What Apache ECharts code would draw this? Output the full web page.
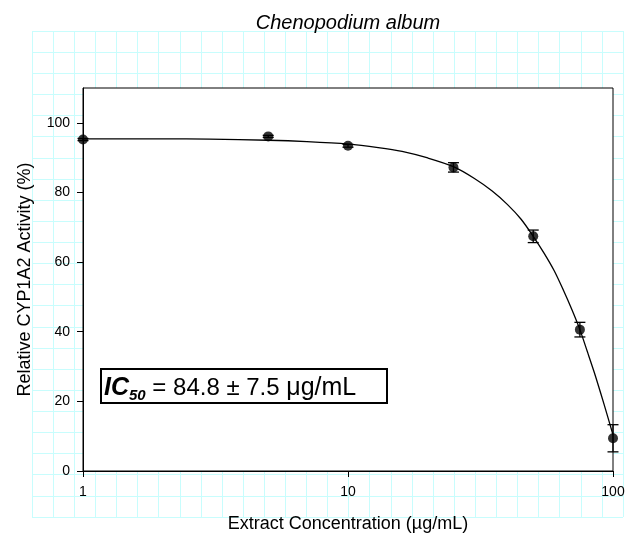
<!DOCTYPE html>
<html>
<head>
<meta charset="utf-8">
<script src="https://cdn.jsdelivr.net/npm/echarts@6/dist/echarts.min.js"></script>
<style>
  html, body { margin: 0; padding: 0; background: #fff; }
  #chart { width: 627px; height: 535px; }
</style>
</head>
<body>
<div id="chart"></div>
<script>
// Measured inhibition of CYP1A2 by Chenopodium album extract (mean ± SD)
const concentrations = [1, 5, 10, 25, 50, 75, 100];
const activity = [95.2, 96.1, 93.4, 87.2, 67.4, 40.6, 9.4];
const activityErr = [0.3, 0.3, 0.4, 1.35, 1.8, 2.1, 3.9];

// Fitted dose-response curve
const fitConc = [1, 2, 3, 5, 7, 10, 13, 16, 20, 25, 30, 35, 40, 45, 50, 55, 60, 65, 70, 75, 80, 85, 90, 95, 100];
const fitActivity = [95.4, 95.4, 95.3, 95.0, 94.6, 93.9, 92.9, 91.8, 89.9, 87.4, 84.0, 80.4, 76.5, 72.3, 67.4, 62.5, 57.5, 51.9, 46.3, 40.6, 34.3, 28.3, 22.2, 16.2, 10.4];

// Axis ticks
const xTicks = [1, 10, 100];
const yTicks = [0, 20, 40, 60, 80, 100];

const titleText = 'Chenopodium album';
const xTitle = 'Extract Concentration (µg/mL)';
const yTitle = 'Relative CYP1A2 Activity (%)';
const ic50Label = { name: 'IC', sub: '50', value: ' = 84.8 ± 7.5 ', unit: 'μg/mL' };

const FONT = '"Liberation Sans", Arial, Helvetica, sans-serif';
const PAPER = '#c8fdfd';

const chart = echarts.init(document.getElementById('chart'), null, { renderer: 'canvas' });

const pointData = concentrations.map((x, i) => [x, activity[i]]);
const fitData = fitConc.map((x, i) => [x, fitActivity[i]]);
const errData = concentrations.map((x, i) => [x, activity[i] - activityErr[i], activity[i] + activityErr[i]]);

const option = {
  animation: false,
  backgroundColor: '#fff',
  grid: [
    // graph-paper backdrop
    { left: 32, top: 31, width: 591, height: 486, show: false, containLabel: false, outerBoundsMode: 'none' },
    // plot area
    { left: 83, top: 88, width: 530, height: 383, show: true, backgroundColor: '#fff',
      borderColor: '#000', borderWidth: 1, containLabel: false, outerBoundsMode: 'none', z: 5 }
  ],
  xAxis: [
    { gridIndex: 0, type: 'value', min: 0, max: 28, interval: 1, silent: true,
      axisLine: { show: false }, axisTick: { show: false }, axisLabel: { show: false },
      splitLine: { show: true, lineStyle: { color: PAPER, width: 1 } } },
    { gridIndex: 1, type: 'log', logBase: 10, min: 1, max: 100, z: 6,
      name: xTitle, nameLocation: 'middle', nameGap: 44,
      nameTextStyle: { fontFamily: FONT, fontSize: 18, color: '#000' },
      axisLine: { show: true, onZero: false, lineStyle: { color: '#000', width: 1 } },
      axisTick: { show: true, inside: false, length: 6, lineStyle: { color: '#000', width: 1 } },
      minorTick: { show: false },
      axisLabel: { show: true, margin: 14, fontFamily: FONT, fontSize: 14, color: '#000',
        customValues: xTicks, formatter: v => String(v) },
      splitLine: { show: false } }
  ],
  yAxis: [
    { gridIndex: 0, type: 'value', min: 0, max: 23, interval: 1, silent: true,
      axisLine: { show: false }, axisTick: { show: false }, axisLabel: { show: false },
      splitLine: { show: true, lineStyle: { color: PAPER, width: 1 } } },
    { gridIndex: 1, type: 'value', min: 0, max: 110, interval: 20, z: 6,
      name: yTitle, nameLocation: 'middle', nameGap: 49, nameRotate: 90,
      nameTextStyle: { fontFamily: FONT, fontSize: 18, color: '#000' },
      axisLine: { show: true, onZero: false, lineStyle: { color: '#000', width: 1 } },
      axisTick: { show: true, inside: false, length: 6, customValues: yTicks,
        lineStyle: { color: '#000', width: 1 } },
      axisLabel: { show: true, margin: 13, fontFamily: FONT, fontSize: 14, color: '#000',
        customValues: yTicks },
      splitLine: { show: false } }
  ],
  series: [
    {
      name: 'fit', type: 'line', xAxisIndex: 1, yAxisIndex: 1, z: 7,
      data: fitData, showSymbol: false, symbol: 'none', smooth: 0.3, clip: false,
      lineStyle: { color: '#000', width: 1.3 }
    },
    {
      name: 'error', type: 'custom', xAxisIndex: 1, yAxisIndex: 1, z: 8, clip: false,
      encode: { x: 0, y: [1, 2] },
      data: errData,
      renderItem(params, api) {
        const x = api.value(0);
        const lo = api.coord([x, api.value(1)]);
        const hi = api.coord([x, api.value(2)]);
        const half = 5.5;
        const st = { stroke: '#000', lineWidth: 1.3 };
        return {
          type: 'group',
          children: [
            { type: 'line', shape: { x1: hi[0], y1: hi[1], x2: lo[0], y2: lo[1] }, style: st },
            { type: 'line', shape: { x1: hi[0] - half, y1: hi[1], x2: hi[0] + half, y2: hi[1] }, style: st },
            { type: 'line', shape: { x1: lo[0] - half, y1: lo[1], x2: lo[0] + half, y2: lo[1] }, style: st }
          ]
        };
      }
    },
    {
      name: 'measured', type: 'scatter', xAxisIndex: 1, yAxisIndex: 1, z: 9, clip: false,
      data: pointData, symbol: 'circle', symbolSize: 10,
      itemStyle: { color: '#000' }
    }
  ],
  graphic: [
    {
      type: 'text', x: 348, y: 23, z: 20,
      style: { text: titleText, align: 'center', verticalAlign: 'middle',
        fontFamily: FONT, fontSize: 20, fontStyle: 'italic', fill: '#000' }
    },
    {
      type: 'rect', z: 20,
      shape: { x: 101, y: 369, width: 286, height: 34 },
      style: { fill: '#fff', stroke: '#000', lineWidth: 2 }
    },
    {
      type: 'text', x: 104, y: 388, z: 21,
      style: {
        text: '{a|' + ic50Label.name + '}{b|' + ic50Label.sub + '}{c|' + ic50Label.value + '}{d|' + ic50Label.unit + '}',
        align: 'left', verticalAlign: 'middle',
        rich: {
          a: { fontFamily: FONT, fontSize: 25, fontWeight: 'bold', fontStyle: 'italic', lineHeight: 30, fill: '#000' },
          b: { fontFamily: FONT, fontSize: 15, fontWeight: 'bold', fontStyle: 'italic', lineHeight: 20, verticalAlign: 'bottom', fill: '#000' },
          c: { fontFamily: FONT, fontSize: 24, lineHeight: 30, fill: '#000' },
          d: { fontFamily: FONT, fontSize: 25, lineHeight: 30, fill: '#000' }
        }
      }
    }
  ]
};

chart.setOption(option);
</script>
</body>
</html>
